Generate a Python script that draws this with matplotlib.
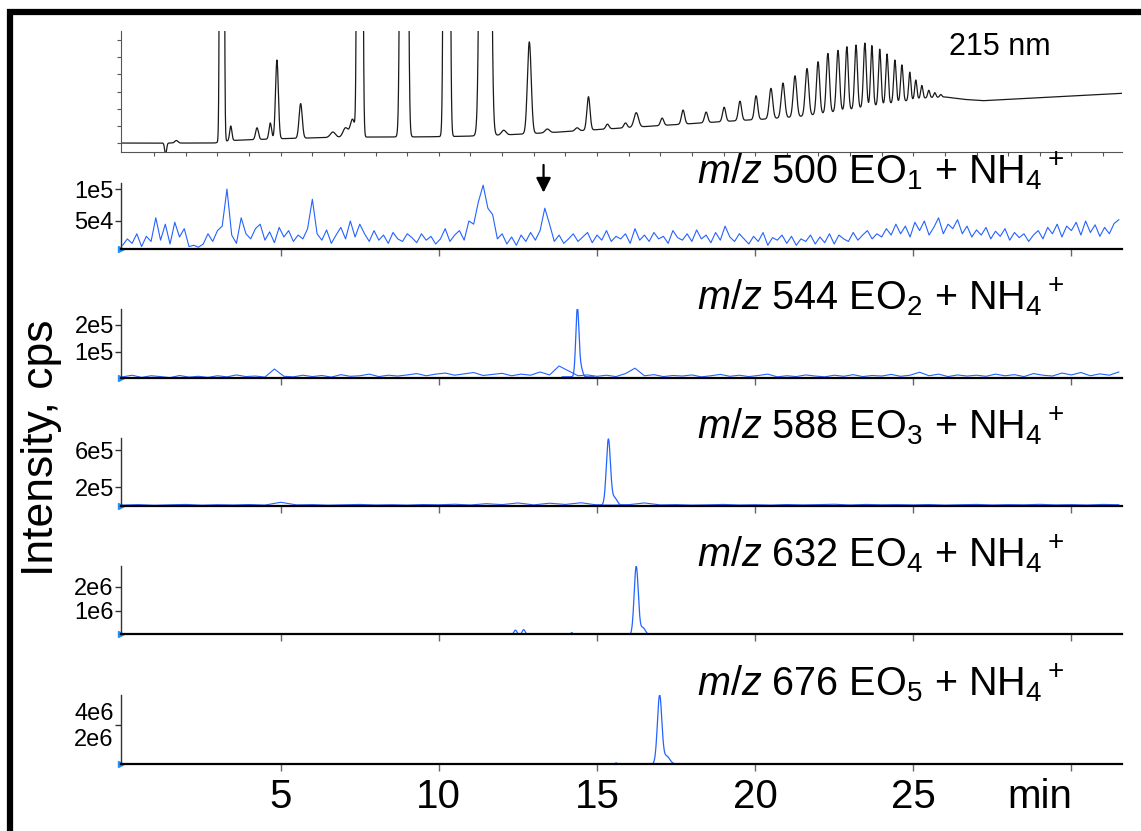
import numpy as np
import matplotlib
matplotlib.use("Agg")
import matplotlib.pyplot as plt
from matplotlib.patches import Rectangle

plt.rcParams['font.family'] = ['Liberation Sans', 'DejaVu Sans']
plt.rcParams['mathtext.fontset'] = 'custom'
plt.rcParams['mathtext.rm'] = 'Liberation Sans'
plt.rcParams['mathtext.it'] = 'Liberation Sans:italic'
plt.rcParams['mathtext.bf'] = 'Liberation Sans:bold'

# ---------------- data ----------------
XMIN, XMAX = -0.06, 31.6

# UV 215 nm trace (relative units, axis 0..100)
uv_base_t = [0, 2.9, 3.4, 5.0, 6.5, 7.9, 9.5, 10.8, 12.0, 13.5, 15.0, 16.5, 18.0,
             19.5, 20.5, 21.5, 22.5, 23.5, 24.5, 25.3, 26.0, 26.6, 27.2, 31.6]
uv_base_v = [7.4, 7.4, 9.5, 11.0, 12.0, 12.4, 12.5, 13.0, 14.0, 16.0, 18.5, 21.0, 23.5,
             26.0, 27.5, 29.5, 33.0, 37.0, 41.0, 44.5, 45.5, 43.5, 42.4, 48.5]
uv_peak_t = [1.36, 1.70, 3.14, 3.42, 4.25, 4.67, 4.88, 5.63, 6.65, 7.05, 7.27, 7.50,
             8.90, 10.25, 11.47, 12.05, 12.86, 13.43, 14.37, 14.73, 15.33, 15.90, 16.24,
             17.06, 17.72, 18.45, 19.02, 19.52, 20.03, 20.50, 20.88, 21.26, 21.64, 21.99,
             22.30, 22.62, 22.90, 23.19, 23.47, 23.69, 23.94, 24.17, 24.42, 24.64, 24.89,
             25.08, 25.27, 25.49, 25.68, 25.87]
uv_peak_top = [-2, 9.5, 3000, 21.5, 20, 24, 76, 40, 16.5, 20, 27, 3000,
               3000, 3000, 3000, 18, 91, 19, 20, 45.7, 23, 24, 32.5,
               28, 34.7, 33, 37, 42, 46.5, 52.6, 57, 63, 69, 74.6,
               81.5, 84, 87, 88.4, 90, 88, 85, 81, 76, 72, 66,
               59.5, 55, 51, 49, 47.5]
uv_peak_w = [0.03, 0.05, 0.035, 0.035, 0.045, 0.04, 0.045, 0.05, 0.08, 0.08, 0.07, 0.045,
             0.06, 0.05, 0.085, 0.07, 0.06, 0.07, 0.06, 0.05, 0.05, 0.05, 0.07,
             0.05, 0.05, 0.05, 0.05, 0.05, 0.05, 0.055, 0.055, 0.055, 0.055, 0.05,
             0.05, 0.05, 0.045, 0.045, 0.045, 0.04, 0.04, 0.04, 0.04, 0.04, 0.035,
             0.035, 0.035, 0.035, 0.035, 0.035]

# m/z 500 (kcps), evenly spaced 0 .. 31.5 min
ms1_vals = [12, 22, 15, 30, 10, 26, 18,
            55, 20, 45, 14, 48, 25, 38,
            10, 12, 9, 14,
            30, 18, 35, 42,
            100,
            28, 15, 55, 30,
            22, 38, 45, 20, 33, 16, 40,
            25, 35, 18, 28, 22, 38,
            84,
            30, 20, 36, 15, 28, 40, 22,
            50, 25, 45, 30, 18, 35,
            20, 28, 15, 32, 22, 18, 30,
            24, 16, 30, 20, 26, 14, 22,
            38, 18, 28, 35, 20, 50,
            45, 80, 106, 70, 60, 22,
            30, 14, 25, 12, 28, 18, 32,
            20, 35, 70, 45,
            18, 28, 15, 22, 30, 18, 25,
            32, 16, 28, 20, 35, 18, 26,
            22, 30, 15, 38, 20, 28, 18,
            32, 22, 26, 15, 35, 24, 20,
            30, 18, 36, 22, 28, 16, 32,
            20, 42, 25, 18, 30, 22, 14,
            26, 18, 32, 12, 24, 20, 28,
            15, 26, 12, 22, 18, 28, 14,
            25, 16, 30, 14, 28, 22, 18,
            32, 20, 28, 35, 22, 30, 25,
            38, 28, 45, 30, 42, 25, 48,
            35, 50, 28, 40, 55, 30, 45,
            38, 52, 30, 42, 25, 36, 28,
            40, 22, 34, 26, 38, 20, 32,
            24, 30, 18, 28, 35, 22, 40,
            30, 45, 25, 42, 35, 48, 28,
            50, 32, 44, 26, 40, 30, 46, 52]

# m/z 544 noise (kcps), evenly spaced 0 .. 31.5 min
ms2_vals = [8, 14, 6, 12, 9, 5, 13, 7, 10, 6,
            12, 8, 15, 9, 11, 7, 37, 10, 8, 14,
            9, 13, 7, 16, 10, 12, 18, 9, 14, 11,
            15, 20, 12, 18, 22, 14, 19, 24, 13, 17,
            21, 12, 18, 14, 26, 15, 48, 30, 12, 15,
            10, 14, 9, 20, 40, 12, 16, 9, 13, 11,
            15, 8, 12, 17, 10, 14, 9, 13, 18, 8,
            12, 9, 15, 11, 8, 14, 10, 16, 9, 13,
            11, 17, 10, 14, 25, 12, 18, 9, 15, 11,
            14, 10, 18, 12, 16, 9, 20, 14, 11, 22,
            15, 24, 12, 19, 14, 26]
ms2_peak_t = [14.38, 14.50]
ms2_peak_h = [2.55e5, 3.0e4]
ms2_peak_w = [0.05, 0.05]

# m/z 588 noise (kcps), evenly spaced 0 .. 31.5 min
ms3_vals = [5, 10, 3, 8, 12, 4, 9, 6, 11, 5,
            35, 7, 10, 4, 8, 12, 6, 9, 5, 11,
            8, 14, 6, 20, 10, 28, 7, 25, 12, 30,
            6, 5, 9, 28, 7, 10, 5, 8, 12, 6,
            9, 5, 11, 7, 10, 14, 6, 12, 8, 10,
            7, 11, 5, 9, 12, 6, 10, 8, 13, 7,
            10, 6, 12, 9]
ms3_peak_t = [15.36, 15.55]
ms3_peak_h = [7.1e5, 8.0e4]
ms3_peak_w = [0.065, 0.08]

# m/z 632
ms4_peak_t = [12.42, 12.68, 14.20, 16.24, 16.45]
ms4_peak_h = [2.0e5, 2.2e5, 1.0e5, 2.85e6, 3.0e5]
ms4_peak_w = [0.05, 0.05, 0.03, 0.065, 0.08]

# m/z 676
ms5_peak_t = [15.60, 16.98, 17.20]
ms5_peak_h = [8.0e4, 5.25e6, 6.0e5]
ms5_peak_w = [0.03, 0.07, 0.10]

labels = [r"$m/z$ 500 EO$_1$ + NH$_4{}^+$", r"$m/z$ 544 EO$_2$ + NH$_4{}^+$",
          r"$m/z$ 588 EO$_3$ + NH$_4{}^+$", r"$m/z$ 632 EO$_4$ + NH$_4{}^+$",
          r"$m/z$ 676 EO$_5$ + NH$_4{}^+$"]
ytick_vals = [[5e4, 1e5], [1e5, 2e5], [2e5, 6e5], [1e6, 2e6], [2e6, 4e6]]
ytick_text = [["5e4", "1e5"], ["1e5", "2e5"], ["2e5", "6e5"], ["1e6", "2e6"], ["2e6", "4e6"]]
ylims = [(6.2e3, 1.094e5), (3.7e3, 2.59e5), (-5e3, 7.3e5), (4e4, 2.875e6), (0, 5.3e6)]
x_ticklabels = ['5', '10', '15', '20', '25', '']

# ---------------- figure ----------------
W, H = 1141, 831
fig = plt.figure(figsize=(W / 100, H / 100), dpi=100)

def fx(px):
    return px / W

def fy(py):
    return 1 - py / H

left, right = 120.7, 1122
blue = '#2463ff'

def gauss_sum(t, centers, heights, widths):
    out = np.zeros_like(t)
    for c, h, w in zip(centers, heights, widths):
        out += h * np.exp(-0.5 * ((t - c) / w) ** 2)
    return out

# UV panel
ax_uv = fig.add_axes([fx(left), fy(152), fx(right - left), (152 - 31) / H])
tt = np.linspace(XMIN, XMAX, 8000)
base = np.interp(tt, uv_base_t, uv_base_v)
uv_h = [top - np.interp(c, uv_base_t, uv_base_v) for c, top in zip(uv_peak_t, uv_peak_top)]
uv = base + gauss_sum(tt, uv_peak_t, uv_h, uv_peak_w)
ax_uv.plot(tt, uv, color='#1a1a1a', lw=0.9)
ax_uv.set_xlim(XMIN, XMAX)
ax_uv.set_ylim(0, 100)
for s in ['top', 'right']:
    ax_uv.spines[s].set_visible(False)
for s in ['left', 'bottom']:
    ax_uv.spines[s].set_color('#555555')
    ax_uv.spines[s].set_linewidth(0.8)
ax_uv.set_yticks(np.arange(7.4, 100, 14.2))
ax_uv.set_yticklabels([])
ax_uv.set_xticks(np.arange(1, 32, 1))
ax_uv.set_xticklabels([])
ax_uv.tick_params(direction='out', length=3, width=0.8, color='#555555')
fig.text(fx(1000), fy(47), "215 nm", fontsize=22, ha='center', va='center')

panel_px = [(183, 249), (309, 378), (438, 506), (566, 634), (695, 764)]
axes = []
for i, (top, bot) in enumerate(panel_px):
    ax = fig.add_axes([fx(left), fy(bot), fx(right - left), (bot - top) / H])
    axes.append(ax)
    ax.set_xlim(XMIN, XMAX)
    ax.set_ylim(*ylims[i])
    for s in ['top', 'right']:
        ax.spines[s].set_visible(False)
    ax.spines['left'].set_color('#333333')
    ax.spines['left'].set_linewidth(1.0)
    ax.spines['bottom'].set_color('black')
    ax.spines['bottom'].set_linewidth(1.6)
    ax.set_xticks([5, 10, 15, 20, 25, 30])
    ax.tick_params(axis='x', direction='out', length=5, width=1.0, color='#666666')
    ax.set_yticks(ytick_vals[i])
    ax.set_yticklabels(ytick_text[i], fontsize=17)
    ax.tick_params(axis='y', direction='out', length=4, width=1.0, pad=1, color='#333333')
    if i < 4:
        ax.set_xticklabels([])
    fig.text(fx(1064), fy(top), labels[i], fontsize=28.5, ha='right', va='baseline')
    ax.plot([XMIN], [ylims[i][0]], marker='>', ms=4, color='#1e90ff', clip_on=False)

# trace 1
t1 = np.linspace(0, 31.5, len(ms1_vals))
axes[0].plot(t1, np.array(ms1_vals) * 1e3, color=blue, lw=0.8)
axes[0].annotate('', xy=(13.31, 9.0e4), xytext=(13.31, 1.42e5),
                 arrowprops=dict(arrowstyle='-|>', color='black', lw=1.6, mutation_scale=22),
                 annotation_clip=False)

# trace 2
t2 = np.linspace(0, 31.5, len(ms2_vals))
axes[1].plot(t2, np.array(ms2_vals) * 1e3, color=blue, lw=0.8)
tp = np.linspace(13.9, 14.9, 200)
axes[1].plot(tp, 8e3 + gauss_sum(tp, ms2_peak_t, ms2_peak_h, ms2_peak_w), color=blue, lw=0.9)

# trace 3
t3 = np.linspace(0, 31.5, len(ms3_vals))
axes[2].plot(t3, np.array(ms3_vals) * 1e3, color=blue, lw=0.8)
tp = np.linspace(14.9, 16.0, 200)
axes[2].plot(tp, 5e3 + gauss_sum(tp, ms3_peak_t, ms3_peak_h, ms3_peak_w), color=blue, lw=0.9)

# trace 4
tf = np.linspace(0, 31.5, 6000)
axes[3].plot(tf, gauss_sum(tf, ms4_peak_t, ms4_peak_h, ms4_peak_w), color=blue, lw=0.9)

# trace 5
axes[4].plot(tf, gauss_sum(tf, ms5_peak_t, ms5_peak_h, ms5_peak_w), color=blue, lw=0.9)
axes[4].set_yticks([3e6], minor=True)
axes[4].tick_params(axis='y', which='major', length=0, pad=5)
axes[4].tick_params(axis='y', which='minor', direction='out', length=4, width=1.0, color='#333333')
axes[4].set_yticklabels(ytick_text[4], fontsize=17)
axes[4].set_xticklabels(x_ticklabels, fontsize=29)
axes[4].tick_params(axis='x', pad=5)
fig.text(fx(1040), fy(797), "min", fontsize=29, ha='center', va='center')

fig.text(fx(42), fy(448), "Intensity, cps", fontsize=32, rotation=90, ha='center', va='center')

# frame
fig.patches.append(Rectangle((fx(10), -0.5), 2.0, fy(12) + 0.5, transform=fig.transFigure,
                             fill=False, edgecolor='black', linewidth=4.5))

fig.savefig("out.png", dpi=100)
